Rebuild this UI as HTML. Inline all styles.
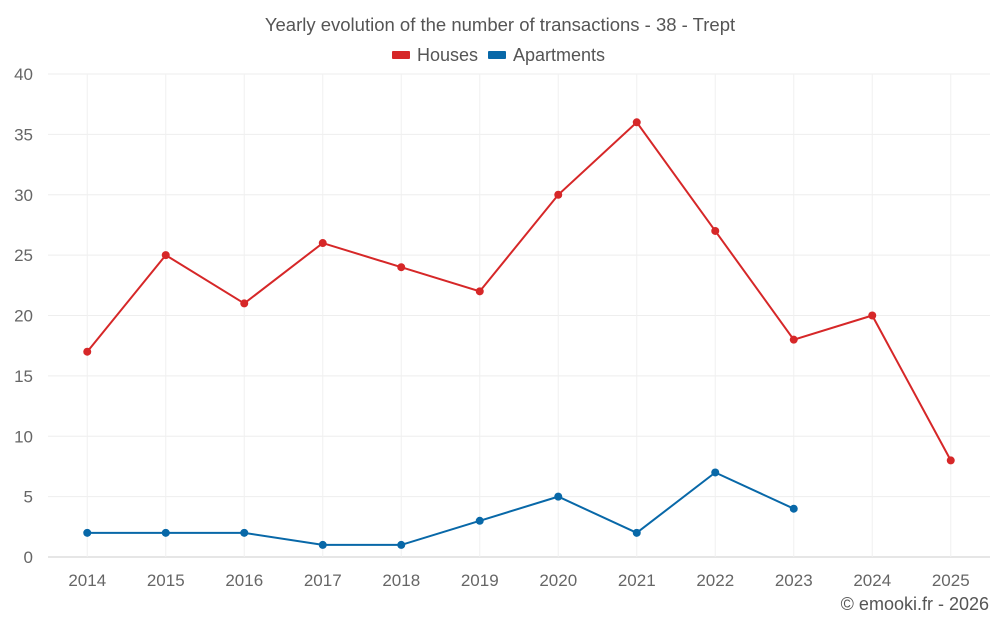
<!DOCTYPE html>
<html><head><meta charset="utf-8"><style>
body{margin:0;background:#fff;font-family:"Liberation Sans",sans-serif}
</style></head><body>
<svg id="chart" width="1000" height="625" xmlns="http://www.w3.org/2000/svg" font-family="Liberation Sans, sans-serif">
<text x="500" y="31" text-anchor="middle" font-size="18.5" fill="#555">Yearly evolution of the number of transactions - 38 - Trept</text>
<g>
<g><rect x="392" y="51" width="18" height="8" rx="1" fill="#d62728"/><text x="417" y="61" font-size="18" fill="#555">Houses</text></g>
<g><rect x="488" y="51" width="18" height="8" rx="1" fill="#0868a8"/><text x="513" y="61" font-size="18" fill="#555">Apartments</text></g>
</g>
<g id="grid"></g><g id="axes"></g><g id="series"></g>
<text x="989" y="610" text-anchor="end" font-size="18" fill="#555">© emooki.fr - 2026</text>
</svg>
<script>
const categories=["2014","2015","2016","2017","2018","2019","2020","2021","2022","2023","2024","2025"];
const houses=[17,25,21,26,24,22,30,36,27,18,20,8];
const apartments=[2,2,2,1,1,3,5,2,7,4,null,null];
const yTicks=[0,5,10,15,20,25,30,35,40];
const NS="http://www.w3.org/2000/svg";
const L=48,R=990,T=74,B=557,yMax=40;
const band=(R-L)/categories.length;
const x=i=>L+band*(i+0.5);
const y=v=>B-(B-T)*v/yMax;
function mk(tag,attrs,parent){const e=document.createElementNS(NS,tag);for(const k in attrs)e.setAttribute(k,attrs[k]);parent.appendChild(e);return e;}
const grid=document.getElementById('grid'),axes=document.getElementById('axes'),ser=document.getElementById('series');
yTicks.forEach(t=>{
 const g=mk('line',{x1:L,x2:R,y1:y(t),y2:y(t),stroke:t===0?'#ccc':'#eee','stroke-width':1},grid);
 
 
 const tx=mk('text',{x:33,y:y(t)+6,'text-anchor':'end','font-size':17,fill:'#666'},axes);
 tx.textContent=t;
 
 
});
categories.forEach((c,i)=>{
 const g=mk('line',{x1:x(i),x2:x(i),y1:T,y2:B,stroke:'#f0f0f0','stroke-width':1},grid);
 
 
 const tx=mk('text',{x:x(i),y:586,'text-anchor':'middle','font-size':17,fill:'#666'},axes);
 tx.textContent=c;
 
 
});
function draw(data,color,name){
 const pts=[];data.forEach((v,i)=>{if(v!=null)pts.push([x(i),y(v)]);});
 const p=mk('polyline',{points:pts.map(p=>p.join(',')).join(' '),fill:'none',stroke:color,'stroke-width':2},ser);
 
 
 pts.forEach(pt=>{
  const c=mk('circle',{cx:pt[0],cy:pt[1],r:4,fill:color},ser);
  
  
 });
}
draw(houses,'#d62728','houses');
draw(apartments,'#0868a8','apartments');
</script>
</body></html>
